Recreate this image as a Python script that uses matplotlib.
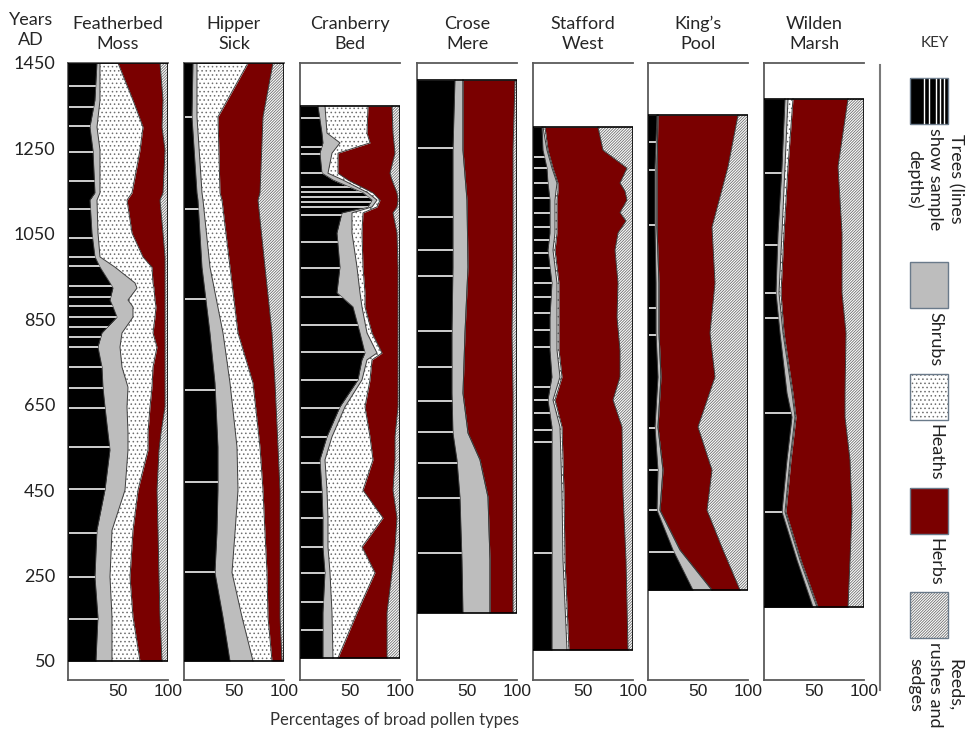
import numpy as np
import matplotlib.pyplot as plt
from matplotlib.patches import Rectangle
from matplotlib.lines import Line2D

# pollen percentages by site, listed top (youngest) to bottom (oldest)
# each site: years AD, then trees / shrubs / heaths / herbs; reeds make up the rest to 100

fm_years = [1450, 1363, 1300, 1246, 1146, 1129, 1052, 996, 972, 935, 923, 895, 879, 855,
            818, 785, 738, 691, 645, 584, 544, 450, 356, 247, 153, 50]
fm_trees = [29, 27, 22, 25, 27, 22, 24, 27, 32, 42, 45, 42, 45, 49, 34, 30, 34, 35, 37, 40, 42, 37, 29, 27, 30, 28]
fm_shrubs = [3, 5, 7, 7, 5, 7, 6, 5, 15, 25, 24, 18, 20, 16, 20, 22, 20, 25, 22, 20, 18, 20, 15, 15, 14, 16]
fm_heaths = [18, 33, 46, 40, 32, 30, 34, 43, 37, 18, 17, 27, 23, 22, 31, 37, 31, 24, 23, 20, 20, 13, 21, 20, 21, 28]
fm_herbs = [42, 30, 19, 25, 31, 33, 31, 22, 13, 12, 11, 10, 9, 10, 12, 8, 12, 13, 15, 13, 11, 19, 25, 29, 27, 22]
fm_samples = [1396, 1347, 1303, 1242, 1174, 1108, 1040, 996, 975, 928, 902, 881, 855, 832,
              809, 785, 738, 689, 642, 551, 453, 350, 247, 148]

hs_years = [1450, 1324, 1146, 1129, 972, 818, 701, 551, 450, 350, 257, 153, 50]
hs_trees = [9, 8, 13, 14, 18, 26, 31, 34, 34, 33, 31, 39, 46]
hs_shrubs = [4, 5, 5, 5, 8, 13, 15, 19, 20, 18, 17, 19, 23]
hs_heaths = [51, 21, 18, 19, 20, 15, 23, 23, 25, 30, 35, 26, 19]
hs_herbs = [25, 45, 40, 36, 35, 34, 22, 18, 17, 15, 13, 12, 10]
hs_samples = [1324, 1108, 897, 685, 469, 259]

cb_years = [1349, 1286, 1263, 1239, 1192, 1176, 1146, 1129, 1113, 1099, 1052, 972, 912, 879,
            818, 771, 755, 708, 645, 575, 521, 450, 385, 317, 257, 163, 57]
cb_trees = [18, 22, 23, 20, 22, 33, 63, 72, 68, 42, 37, 40, 37, 53, 60, 65, 62, 58, 40, 27, 20, 22, 23, 23, 25, 23, 23]
cb_shrubs = [7, 5, 17, 12, 6, 10, 5, 5, 4, 10, 15, 17, 23, 9, 7, 12, 5, 4, 5, 5, 5, 5, 5, 5, 5, 9, 10]
cb_heaths = [43, 40, 30, 6, 10, 5, 5, 3, 5, 11, 10, 6, 5, 3, 5, 5, 5, 8, 20, 38, 48, 36, 55, 34, 45, 25, 5]
cb_herbs = [24, 26, 24, 57, 52, 44, 24, 18, 20, 30, 35, 35, 33, 33, 26, 16, 26, 28, 33, 25, 22, 30, 14, 33, 17, 30, 49]
cb_samples = [1321, 1253, 1237, 1192, 1160, 1148, 1136, 1125, 1113, 1094, 1031, 970, 902, 837,
              773, 708, 642, 574, 514, 446, 385, 317, 256, 188, 123]

cm_years = [1410, 1246, 1129, 972, 818, 677, 584, 521, 434, 286, 163]
cm_trees = [38, 36, 36, 36, 35, 35, 36, 40, 43, 45, 46]
cm_shrubs = [8, 10, 14, 15, 13, 11, 15, 23, 28, 28, 27]
cm_heaths = [0, 0, 0, 0, 0, 0, 0, 0, 0, 0, 0]
cm_herbs = [52, 50, 46, 45, 47, 50, 45, 33, 25, 23, 23]
cm_samples = [1251, 1090, 1012, 951, 823, 738, 659, 586, 514, 432, 303]

sw_years = [1300, 1246, 1204, 1169, 1150, 1129, 1100, 1080, 1052, 1012, 935, 855, 778, 715,
            661, 598, 443, 286, 76]
sw_trees = [9, 10, 14, 15, 16, 17, 17, 17, 17, 15, 19, 17, 17, 19, 15, 19, 19, 19, 19]
sw_shrubs = [1, 4, 5, 9, 7, 5, 5, 5, 5, 5, 5, 7, 7, 8, 5, 8, 10, 11, 15]
sw_heaths = [2, 1, 1, 1, 2, 2, 2, 2, 2, 2, 2, 2, 2, 2, 2, 2, 2, 2, 2]
sw_herbs = [53, 55, 74, 62, 67, 70, 63, 69, 61, 60, 59, 58, 61, 58, 58, 60, 59, 61, 59]
sw_samples = [1230, 1204, 1169, 1134, 1099, 1066, 1036, 1005, 970, 935, 902, 865, 825, 785,
              691, 661, 631, 591, 563, 303]

kp_years = [1328, 1207, 1066, 935, 818, 715, 598, 497, 403, 310, 216]
kp_trees = [9, 7, 7, 8, 8, 10, 7, 10, 9, 25, 45]
kp_shrubs = [1, 2, 2, 3, 3, 3, 3, 5, 3, 7, 19]
kp_heaths = [0, 0, 0, 0, 0, 0, 0, 0, 0, 0, 0]
kp_herbs = [80, 71, 55, 56, 51, 54, 40, 49, 47, 43, 28]
kp_samples = [1265, 1200, 1071, 876, 813, 595, 497, 404, 305]

wm_years = [1366, 1207, 1052, 912, 818, 677, 621, 521, 399, 286, 176]
wm_trees = [21, 18, 14, 12, 16, 23, 28, 23, 18, 33, 49]
wm_shrubs = [3, 3, 4, 3, 3, 5, 3, 3, 3, 3, 4]
wm_heaths = [5, 3, 2, 2, 1, 1, 1, 1, 1, 1, 1]
wm_herbs = [55, 50, 58, 61, 62, 52, 49, 59, 66, 49, 30]
wm_samples = [1192, 1024, 912, 853, 631, 399]

sites = [
    ("Featherbed\nMoss", fm_years, fm_trees, fm_shrubs, fm_heaths, fm_herbs, fm_samples),
    ("Hipper\nSick", hs_years, hs_trees, hs_shrubs, hs_heaths, hs_herbs, hs_samples),
    ("Cranberry\nBed", cb_years, cb_trees, cb_shrubs, cb_heaths, cb_herbs, cb_samples),
    ("Crose\nMere", cm_years, cm_trees, cm_shrubs, cm_heaths, cm_herbs, cm_samples),
    ("Stafford\nWest", sw_years, sw_trees, sw_shrubs, sw_heaths, sw_herbs, sw_samples),
    ("King\u2019s\nPool", kp_years, kp_trees, kp_shrubs, kp_heaths, kp_herbs, kp_samples),
    ("Wilden\nMarsh", wm_years, wm_trees, wm_shrubs, wm_heaths, wm_herbs, wm_samples),
]
year_ticks = [50, 250, 450, 650, 850, 1050, 1250, 1450]

TREES = "black"
SHRUBS = "#bdbdbd"
HERBS = "#7a0000"
PATTERN = "#6e6e6e"
EDGE = "#3c3c3c"
AXIS = "#5a5a5a"
DOTS = "...."
STRIPES = "////////////"

plt.rcParams["font.family"] = ["Lato", "DejaVu Sans"]
plt.rcParams["hatch.linewidth"] = 0.6

W, H = 967, 733
fig = plt.figure(figsize=(W / 100, H / 100), dpi=100)


def px_rect(x0, y0, x1, y1):
    # pixel box (top-left origin) -> figure fraction [left, bottom, width, height]
    return [x0 / W, 1 - y1 / H, (x1 - x0) / W, (y1 - y0) / H]


lefts = [68, 184, 300, 417, 533, 648, 764]
for i, (name, yrs, tr, sh, he, hb, samples) in enumerate(sites):
    ax = fig.add_axes(px_rect(lefts[i], 63, lefts[i] + 100, 680))
    ax.set_xlim(0, 100)
    ax.set_ylim(5.5, 1450)

    yrs = np.array(yrs)
    c1 = np.array(tr, dtype=float)
    c2 = c1 + sh
    c3 = c2 + he
    c4 = c3 + hb

    tree_fill = ax.fill_betweenx(yrs, 0, c1, color=TREES, lw=0)
    ax.fill_betweenx(yrs, c1, c2, color=SHRUBS, lw=0)
    ax.fill_betweenx(yrs, c2, c3, facecolor="white", hatch=DOTS, edgecolor=PATTERN, lw=0)
    ax.fill_betweenx(yrs, c3, c4, color=HERBS, lw=0)
    ax.fill_betweenx(yrs, c4, 100, facecolor="white", hatch=STRIPES, edgecolor=PATTERN, lw=0)
    for c in (c1, c2, c3, c4):
        ax.plot(c, yrs, color=EDGE, lw=0.7)

    # sample depths drawn as pale lines inside the trees band
    lc = ax.hlines(samples, 0, 100, color="#cfcfcf", lw=1.4)
    lc.set_clip_path(tree_fill.get_paths()[0], ax.transData)

    ax.add_patch(Rectangle((0, yrs.min()), 100, yrs.max() - yrs.min(),
                           fill=False, ec="black", lw=1.2, zorder=5))

    ax.spines["right"].set_visible(False)
    for s in ("left", "top", "bottom"):
        ax.spines[s].set_color(AXIS)
        ax.spines[s].set_linewidth(1.3)

    ax.set_xticks([50, 100])
    ax.set_xticklabels(["50", "100"], fontfamily="Liberation Sans", fontsize=12.5, color="#222222")
    ax.tick_params(axis="x", length=0, pad=3)
    if i == 0:
        ax.set_yticks(year_ticks)
        ax.set_yticklabels([str(y) for y in year_ticks], fontsize=13, color="#222222")
        ax.tick_params(axis="y", length=0, pad=9)
    else:
        ax.set_yticks([])

    fig.text((lefts[i] + 50) / W, 1 - 34 / H, name, ha="center", va="center",
             fontsize=13, color="#262626", linespacing=1.3)

fig.text(31 / W, 1 - 30 / H, "Years\nAD", ha="center", va="center",
         fontsize=13, color="#262626", linespacing=1.3)
fig.text(395 / W, 1 - 720 / H, "Percentages of broad pollen types", ha="center",
         va="center", fontsize=12, color="#333333")

# key
fig.add_artist(Line2D([880 / W, 880 / W], [1 - 65 / H, 1 - 690 / H], color="#7a7a7a", lw=1.5))
fig.text(935 / W, 1 - 43 / H, "KEY", ha="center", va="center", fontsize=11, color="#333333")

BOX_H = 46
key_boxes = [
    (78, dict(facecolor=TREES), "Trees (lines\nshow sample\ndepths)"),
    (262, dict(facecolor=SHRUBS), "Shrubs"),
    (374, dict(facecolor="white", hatch=DOTS, edgecolor=PATTERN), "Heaths"),
    (488, dict(facecolor=HERBS), "Herbs"),
    (592, dict(facecolor="white", hatch=STRIPES, edgecolor=PATTERN), "Reeds,\nrushes and\nsedges"),
]
for top, style, label in key_boxes:
    fig.add_artist(Rectangle((910 / W, 1 - (top + BOX_H) / H), 38 / W, BOX_H / H,
                             transform=fig.transFigure, lw=0, **style))
    fig.add_artist(Rectangle((910 / W, 1 - (top + BOX_H) / H), 38 / W, BOX_H / H,
                             transform=fig.transFigure, fill=False, ec="#6a7a8a", lw=1))
    fig.text(935 / W, 1 - (top + BOX_H + 4) / H, label, rotation=-90, ha="center", va="top",
             multialignment="center", fontsize=13, color="#222222", linespacing=1.3)

# white stripes in the trees key box
for fx in (0.38, 0.51, 0.68, 0.8, 0.89):
    x = (910 + 38 * fx) / W
    fig.add_artist(Line2D([x, x], [1 - 79 / H, 1 - (78 + BOX_H - 1) / H], color="white", lw=1))

fig.savefig("out.png", dpi=100)
